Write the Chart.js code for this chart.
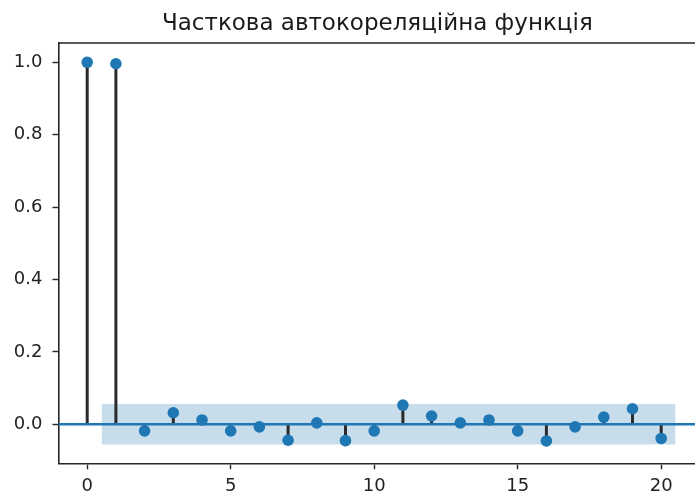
<!DOCTYPE html>
<html>
<head>
<meta charset="utf-8">
<script src="https://cdn.jsdelivr.net/npm/chart.js@4.4.1/dist/chart.umd.min.js"></script>
<style>
  html, body { margin: 0; padding: 0; background: #ffffff; overflow: hidden; }
  #wrap { width: 695px; height: 494px; position: relative; overflow: hidden; }
</style>
</head>
<body>
<div id="wrap"><canvas id="pacf" width="702" height="494"></canvas></div>
<script>
// Partial autocorrelation values by lag
const lags = [0, 1, 2, 3, 4, 5, 6, 7, 8, 9, 10, 11, 12, 13, 14, 15, 16, 17, 18, 19, 20];
const pacfValues = [1.0, 0.996, -0.018, 0.032, 0.012, -0.018, -0.007, -0.044, 0.004, -0.045, -0.018,
                    0.053, 0.023, 0.004, 0.012, -0.018, -0.046, -0.007, 0.020, 0.043, -0.039];
// 95% confidence band half-width (lags 1..20)
const confHalfWidth = 0.056;
const xTickValues = [0, 5, 10, 15, 20];
const yTickValues = [0.0, 0.2, 0.4, 0.6, 0.8, 1.0];
const titleText = 'Часткова автокореляційна функція';

const xMin = -1, xMax = 21.22;
const yMin = -0.1077, yMax = 1.0533;

const blue = '#1f77b4';
const axisColor = '#262626';
const fontFamily = '"DejaVu Sans", sans-serif';

// stems: vertical segments from 0 to each value, separated by gaps
const stemPoints = [];
lags.forEach((lag, i) => {
  stemPoints.push({ x: lag, y: 0 }, { x: lag, y: pacfValues[i] }, { x: lag, y: null });
});

const markerPoints = lags.map((lag, i) => ({ x: lag, y: pacfValues[i] }));

// band spans half a lag beyond the first and last non-zero lags
const bandLags = lags.slice(1).map(Number);
const bandX = bandLags.map((l, i) => i === 0 ? l - 0.5 : (i === bandLags.length - 1 ? l + 0.5 : l));
const bandUpper = bandX.map(x => ({ x, y: confHalfWidth }));
const bandLower = bandX.map(x => ({ x, y: -confHalfWidth }));

// top frame line
const topFrame = {
  id: 'topFrame',
  afterDraw(chart) {
    const { ctx, chartArea } = chart;
    ctx.save();
    ctx.strokeStyle = axisColor;
    ctx.lineWidth = 1.6;
    ctx.beginPath();
    ctx.moveTo(chartArea.left, chartArea.top);
    ctx.lineTo(chartArea.right + 10, chartArea.top);
    ctx.stroke();
    ctx.restore();
  }
};

new Chart(document.getElementById('pacf'), {
  type: 'scatter',
  data: {
    datasets: [
      {
        label: 'band upper',
        data: bandUpper,
        showLine: true,
        borderWidth: 0,
        borderColor: 'rgba(0,0,0,0)',
        pointRadius: 0,
        backgroundColor: 'rgba(31,119,180,0.25)',
        fill: '+1',
        order: 4
      },
      {
        label: 'band lower',
        data: bandLower,
        showLine: true,
        borderWidth: 0,
        borderColor: 'rgba(0,0,0,0)',
        pointRadius: 0,
        fill: false,
        order: 5
      },
      {
        label: 'stems',
        data: stemPoints,
        showLine: true,
        spanGaps: false,
        borderColor: '#2a2a2a',
        borderWidth: 3,
        pointRadius: 0,
        fill: false,
        order: 3
      },
      {
        label: 'zero',
        data: [{ x: xMin, y: 0 }, { x: xMax, y: 0 }],
        showLine: true,
        borderColor: blue,
        borderWidth: 2.6,
        pointRadius: 0,
        fill: false,
        order: 2
      },
      {
        label: 'pacf',
        data: markerPoints,
        showLine: false,
        pointRadius: 5.8,
        pointBackgroundColor: blue,
        pointBorderWidth: 0,
        pointBorderColor: blue,
        order: 1
      }
    ]
  },
  options: {
    responsive: false,
    animation: false,
    events: [],
    layout: { padding: 0 },
    plugins: {
      legend: { display: false },
      tooltip: { enabled: false },
      title: {
        display: true,
        fullSize: false,
        text: titleText,
        color: '#1a1a1a',
        font: { family: fontFamily, size: 23, weight: 'normal' },
        padding: { top: 10.5, bottom: 4.9 },
        lineHeight: 1.2
      }
    },
    scales: {
      x: {
        type: 'linear',
        min: xMin,
        max: xMax,
        afterBuildTicks: s => { s.ticks = xTickValues.map(v => ({ value: v })); },
        afterFit: s => { s.height = 494 - 463.3; },
        ticks: {
          color: '#222',
          font: { family: fontFamily, size: 18 },
          padding: 6,
          maxRotation: 0,
          callback: v => String(v)
        },
        grid: {
          display: true,
          drawOnChartArea: false,
          drawTicks: true,
          tickLength: 6,
          tickWidth: 1.4,
          tickColor: axisColor
        },
        border: { display: true, color: axisColor, width: 1.6 }
      },
      y: {
        type: 'linear',
        min: yMin,
        max: yMax,
        afterBuildTicks: s => { s.ticks = yTickValues.map(v => ({ value: v })); },
        afterFit: s => { s.width = 58.5; },
        ticks: {
          color: '#222',
          font: { family: fontFamily, size: 18 },
          padding: 10,
          callback: v => Number(v).toFixed(1)
        },
        grid: {
          display: true,
          drawOnChartArea: false,
          drawTicks: true,
          tickLength: 6,
          tickWidth: 1.4,
          tickColor: axisColor
        },
        border: { display: true, color: axisColor, width: 1.6 }
      }
    }
  },
  plugins: [topFrame]
});
</script>
</body>
</html>
